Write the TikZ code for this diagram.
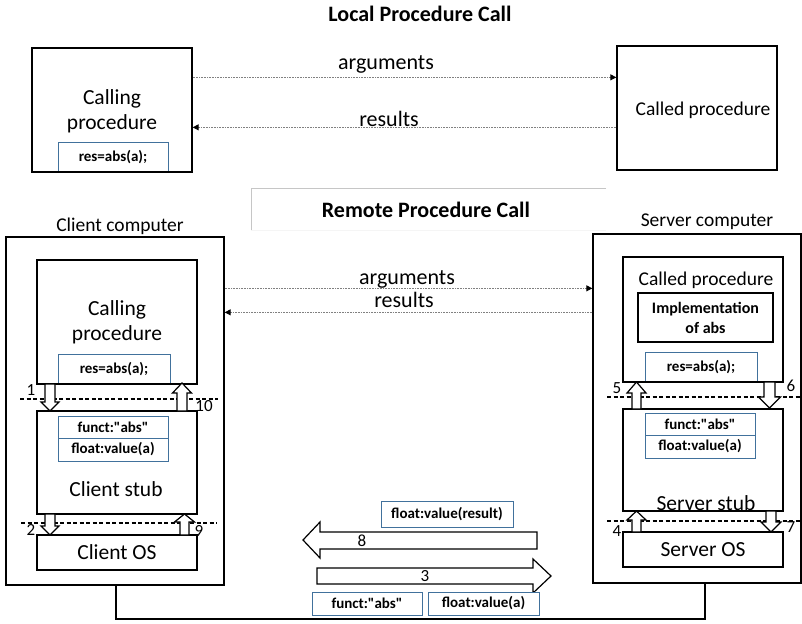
\documentclass[tikz,border=0pt]{standalone}
\usepackage{fontspec}
\setmainfont{Carlito}[Ligatures=TeXOff]
\usetikzlibrary{arrows.meta,calc}
\definecolor{rpcblue}{RGB}{65,113,156}
\newcommand\rpctitle{\bfseries\fontsize{22}{26}\selectfont}
\newcommand\rpcbig{\fontsize{21.5}{25}\selectfont}
\newcommand\rpcarg{\fontsize{22}{25}\selectfont}
\newcommand\rpcmid{\fontsize{19.5}{23}\selectfont}
\newcommand\rpcnum{\fontsize{17}{20}\selectfont}
\newcommand\rpcvarrow[6]{\draw[blockarr] (#1-#2,#4) -- (#1+#2,#4) -- (#1+#2,#5) -- (#1+#3,#5) -- (#1,#6) -- (#1-#3,#5) -- (#1-#2,#5) -- cycle;}
\tikzset{
  box/.style={draw=black, line width=1.3pt, inner sep=0pt},
  bluebox/.style={draw=rpcblue, line width=1pt, inner sep=0pt, fill=white, font=\bfseries\fontsize{15}{17}\selectfont},
  lbl/.style={inner sep=0pt, align=center},
  dotarr/.style={draw=gray, line width=0.9pt, dash pattern=on 1pt off 0.6pt, -{Triangle[length=6pt,width=6pt,black]}},
  sepline/.style={black, line width=1.2pt, dash pattern=on 4pt off 2.5pt},
  blockarr/.style={draw=black, line width=1.2pt, fill=white, line join=miter},
}
\begin{document}
\begin{tikzpicture}[x=1pt,y=-1pt]
\useasboundingbox (0,0) rectangle (802,623);
% ---------------- Local procedure call
\node[lbl, font=\rpctitle] (ltitle) at (420,14) {Local Procedure Call};
\node[bluebox, minimum width=110pt, minimum height=30pt] (lres) at (113,157) {res=abs(a);};
\node[box, minimum width=160pt, minimum height=124pt] (lcall) at (112,110) {};
\node[lbl, font=\rpcbig] (lcalltxt) at (112,111) {Calling\\procedure};
\node[box, minimum width=160pt, minimum height=124pt] (lcalled) at (697,108) {};
\node[lbl, font=\rpcmid] (lcalledtxt) at (703,110) {Called procedure};
\draw[dotarr] ($(lcall.north east)+(0,30)$) -- ($(lcalled.north west)+(0,32)$);
\draw[dotarr] ($(lcalled.north west)+(0,82)$) -- ($(lcall.north east)+(0,80)$);
\node[lbl, font=\rpcarg] (largs) at (386,64) {arguments};
\node[lbl, font=\rpcarg] (lresults) at (389,119) {results};
% ---------------- separator
\draw[gray!45, line width=1pt] (606,188) -- (251,188) -- (251,230);
\draw[gray!8, line width=1pt] (251,230) -- (606,230);
\node[lbl, font=\rpctitle] (rtitle) at (426,210) {Remote Procedure Call};
% ---------------- Client
\node[lbl, font=\rpcmid] (ctitle) at (120,226) {Client computer};
\node[box, minimum width=218pt, minimum height=348pt] (cbox) at (115,411) {};
\node[bluebox, minimum width=112pt, minimum height=30pt] (cres) at (114,369) {res=abs(a);};
\node[box, minimum width=160pt, minimum height=124pt] (ccall) at (117,322) {};
\node[lbl, font=\rpcbig] (ccalltxt) at (117,322) {Calling\\procedure};
\node[bluebox, minimum width=110pt, minimum height=22pt] (cfunct) at (113,427) {funct:"abs"};
\node[bluebox, minimum width=110pt, minimum height=23pt] (cfloat) at (113,449.5) {float:value(a)};
\node[box, minimum width=160pt, minimum height=103pt] (cstub) at (117,462.5) {};
\node[lbl, font=\rpcbig] (cstubtxt) at (116,489) {Client stub};
\node[box, minimum width=160pt, minimum height=35pt, font=\rpcbig] (cos) at (117,552.5) {Client OS};
\draw[sepline] (20,399) -- (218,399);
\draw[sepline] (21,523) -- (217,523);
\rpcvarrow{50}{5}{9}{384}{402}{411}
\rpcvarrow{182}{5}{9.5}{411}{393}{383}
\rpcvarrow{50}{5}{9}{514}{526}{535}
\rpcvarrow{184.5}{4.5}{10}{535}{522}{514}
\node[lbl, font=\rpcnum] (n1) at (31,390) {1};
\node[lbl, font=\rpcnum] (n10) at (204,406) {10};
\node[lbl, font=\rpcnum] (n2) at (31,530) {2};
\node[lbl, font=\rpcnum] (n9) at (199,531) {9};
% ---------------- Server
\node[lbl, font=\rpcmid] (stitle) at (707,222) {Server computer};
\node[box, minimum width=208pt, minimum height=349pt] (sbox) at (697,408.5) {};
\node[bluebox, minimum width=112pt, minimum height=30pt] (sres) at (701,367) {res=abs(a);};
\node[box, minimum width=160pt, minimum height=125pt] (scall) at (703,319.5) {};
\node[lbl, font=\rpcmid] (scalltxt) at (706,280) {Called procedure};
\node[box, minimum width=135pt, minimum height=49pt, align=center, font=\bfseries\fontsize{16}{20}\selectfont] (simpl) at (705.5,317.5) {Implementation\\of abs};
\node[bluebox, minimum width=110pt, minimum height=22pt] (sfunct) at (700,424) {funct:"abs"};
\node[bluebox, minimum width=110pt, minimum height=23pt] (sfloat) at (700,446.5) {float:value(a)};
\node[box, minimum width=160pt, minimum height=102pt] (sstub) at (703,460) {};
\node[lbl, font=\rpcbig] (sstubtxt) at (706,503) {Server stub};
\node[box, minimum width=160pt, minimum height=35pt, font=\rpcbig] (sos) at (703,549.5) {Server OS};
\draw[sepline] (607,397) -- (802,397);
\draw[sepline] (607,521) -- (802,521);
\rpcvarrow{636.5}{4.5}{9.5}{409}{393}{382}
\rpcvarrow{769.5}{5.5}{11}{382}{397}{408}
\rpcvarrow{636.5}{4.5}{9.5}{532}{520}{511}
\rpcvarrow{771}{5}{10}{511}{522}{532}
\node[lbl, font=\rpcnum] (n5) at (617,388) {5};
\node[lbl, font=\rpcnum] (n6) at (791,386) {6};
\node[lbl, font=\rpcnum] (n4) at (617,531) {4};
\node[lbl, font=\rpcnum] (n7) at (791,527) {7};
% ---------------- remote arguments / results
\draw[dotarr] ($(cbox.north east)+(0,52)$) -- ($(sbox.north west)+(0,55)$);
\draw[dotarr] ($(sbox.north west)+(0,79)$) -- ($(cbox.north east)+(0,76)$);
\node[lbl, font=\rpcarg] (rargs) at (407,279) {arguments};
\node[lbl, font=\rpcarg] (rresults) at (404,300) {results};
% ---------------- network messages
\node[bluebox, minimum width=132pt, minimum height=26pt] (fres) at (447,514) {float:value(result)};
\draw[blockarr] (537,532) -- (320,532) -- (320,522) -- (303,540) -- (320,558) -- (320,549) -- (537,549) -- cycle;
\node[lbl, font=\rpcnum] (n8) at (362,541) {8};
\draw[blockarr] (317,568) -- (533,568) -- (533,559) -- (551,576) -- (533,593) -- (533,584) -- (317,584) -- cycle;
\node[lbl, font=\rpcnum] (n3) at (425,576) {3};
\node[bluebox, minimum width=110pt, minimum height=23pt] (mfunct) at (367,603.5) {funct:"abs"};
\node[bluebox, minimum width=111pt, minimum height=23pt] (mfloat) at (483.5,603.5) {float:value(a)};
% ---------------- wire between computers
\coordinate (linkA) at (116,585);
\coordinate (linkB) at (705,583);
\draw[black, line width=1.5pt] (linkA) -- ++(0,34) -| (linkB);
\end{tikzpicture}
\end{document}
